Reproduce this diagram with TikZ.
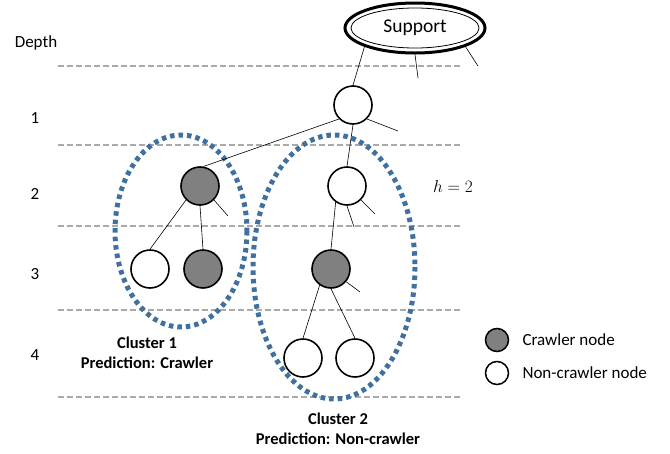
\documentclass[tikz,border=0pt]{standalone}
\usepackage{fontspec}
\setmainfont{Carlito}
\usetikzlibrary{positioning,shapes}
\definecolor{crawlgray}{RGB}{128,128,128}
\definecolor{clusterblue}{RGB}{64,112,160}
\definecolor{levelgray}{RGB}{170,170,170}

\begin{document}
\begin{tikzpicture}[x=1pt, y=-1pt,
    font=\fontsize{17}{20}\selectfont,
    plain/.style={circle, draw, line width=1.6pt, minimum size=38pt, inner sep=0pt, fill=white},
    crawler/.style={plain, fill=crawlgray},
    legendnode/.style={circle, draw, line width=1.5pt, minimum size=23pt, inner sep=0pt},
    edge/.style={line width=0.6pt},
    level/.style={levelgray, line width=1.3pt, dash pattern=on 6pt off 3pt},
    cluster/.style={clusterblue, line width=5pt, dash pattern=on 4.5pt off 4pt},
    clabel/.style={font=\fontsize{16.5}{19.5}\selectfont\bfseries, align=center}
]
    \useasboundingbox (0,0) rectangle (670,453);

    % depth levels
    \node (depth) at (36,43) {Depth};
    \foreach \d/\y in {1/118,2/194,3/274,4/355}
        \node (d\d) at (35,\y) {\d};
    \foreach \y in {66,145,226,310,397}
        \draw[level] (58,\y) -- (460,\y);

    % clusters
    \draw[cluster] (181,231) ellipse [x radius=66, y radius=96];
    \draw[cluster] (334,267) ellipse [x radius=81, y radius=132];

    % support node
    \node[ellipse, draw, line width=3pt, minimum width=140pt, minimum height=50pt,
          font=\fontsize{19.5}{22}\selectfont] (sup) at (415,28) {Support};
    \draw[line width=0.8pt] (sup.center) ellipse [x radius=64, y radius=20];

    % tree
    \node[plain] (root) at (353,105) {};
    \node[crawler] (c1top) at (200,186) {};
    \node[plain] (c1l) at (150,269) {};
    \node[crawler] (c1r) at (203,269) {};
    \node[plain] (c2top) at (347,186) {};
    \node[crawler] (c2mid) at (331,269) {};
    \node[plain] (c2bl) at (303,358) {};
    \node[plain] (c2br) at (355,358) {};

    \coordinate (s1) at (418,78);
    \coordinate (s2) at (478,66);
    \coordinate (s3) at (398,131);
    \coordinate (s4) at (228,216);
    \coordinate (s5) at (354,227);
    \coordinate (s6) at (375,214);
    \coordinate (s7) at (360,292);

    \draw[edge] (sup.south west) -- (root.north);
    \draw[edge] (sup.south) -- (s1);
    \draw[edge] (sup.south east) -- (s2);
    \draw[edge] (root.south west) -- (c1top.80);
    \draw[edge] (root.south) -- (c2top.north);
    \draw[edge] (root.-45) -- (s3);
    \draw[edge] (c1top.225) -- (c1l.north);
    \draw[edge] (c1top.south) -- (c1r.north);
    \draw[edge] (c1top.-45) -- (s4);
    \draw[edge] (c2top.235) -- (c2mid.north);
    \draw[edge] (c2top.south) -- (s5);
    \draw[edge] (c2top.-45) -- (s6);
    \draw[edge] (c2mid.235) -- (c2bl.north);
    \draw[edge] (c2mid.south) -- (c2br.north);
    \draw[edge] (c2mid.-40) -- (s7);

    % labels
    \node[clabel] (lab1) at (147,353) {Cluster 1\\Prediction: Crawler};
    \node[clabel] (lab2) at (338,429) {Cluster 2\\Prediction: Non-crawler};
    \node[font=\fontsize{18}{21}\selectfont] (hlab) at (453,186) {$h=2$};

    % legend
    \node[legendnode, fill=crawlgray] (legc) at (497,340) {};
    \node[legendnode, fill=white] (legn) at (497,373) {};
    \node[anchor=west] (legctext) at (519,340) {Crawler node};
    \node[anchor=west] (legntext) at (519,373) {Non-crawler node};
\end{tikzpicture}
\end{document}
